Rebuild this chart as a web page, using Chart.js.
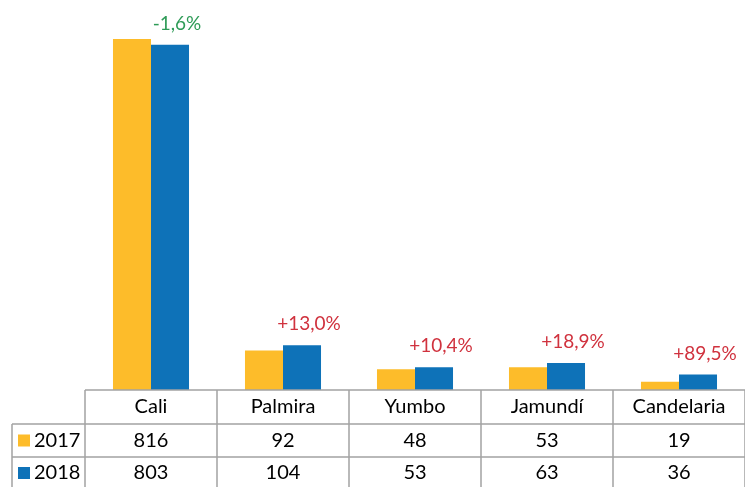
<!DOCTYPE html>
<html>
<head>
<meta charset="utf-8">
<script src="https://cdn.jsdelivr.net/npm/chart.js@4.4.1/dist/chart.umd.min.js"></script>
<style>
  html, body { margin: 0; padding: 0; background: #fff; }
  #wrap { width: 745px; height: 487px; }
</style>
</head>
<body>
<div id="wrap"><canvas id="my-chart"></canvas></div>
<script>
let categories = ["Cali", "Palmira", "Yumbo", "Jamundí", "Candelaria"];
let years = ["2017", "2018"];
let values2017 = [816, 92, 48, 53, 19];
let values2018 = [803, 104, 53, 63, 36];
let changes = ["-1,6%", "+13,0%", "+10,4%", "+18,9%", "+89,5%"];

let yellow = "#FDBC2A";
let blue = "#0E72B8";
let font = "Lato, 'Open Sans', sans-serif";

// percent change above each pair, plus the data table under the plot
let tablePlugin = {
    id: 'table',
    afterDraw(chart) {
        let ctx = chart.ctx;
        let x = chart.scales.x;
        let area = chart.chartArea;
        let step = x.getPixelForValue(1) - x.getPixelForValue(0);
        let meta = chart.getDatasetMeta(1);

        ctx.save();
        ctx.font = "19px " + font;
        ctx.textAlign = "center";
        ctx.textBaseline = "middle";
        meta.data.forEach((bar, i) => {
            ctx.fillStyle = changes[i].startsWith("-") ? "#2E9B57" : "#D0323E";
            ctx.fillText(changes[i], bar.x + 7, bar.y - 21);
        });

        let top = area.bottom;
        let row1 = top + 34;
        let row2 = top + 67;
        let bottom = chart.height;
        let left = 12;
        let right = area.right;

        ctx.strokeStyle = "#a3a3a3";
        ctx.lineWidth = 1.5;
        ctx.beginPath();
        ctx.moveTo(area.left, top); ctx.lineTo(right, top);
        ctx.moveTo(left, row1); ctx.lineTo(right, row1);
        ctx.moveTo(left, row2); ctx.lineTo(right, row2);
        ctx.moveTo(left, row1); ctx.lineTo(left, bottom);
        for (let i = 0; i <= categories.length; i++) {
            let cx = area.left + i * step;
            ctx.moveTo(cx, top); ctx.lineTo(cx, bottom);
        }
        ctx.stroke();

        ctx.fillStyle = "#000";
        ctx.font = "20px " + font;
        categories.forEach((c, i) => {
            let cx = x.getPixelForValue(i);
            ctx.fillText(c, cx, (top + row1) / 2);
            ctx.fillText(values2017[i], cx, (row1 + row2) / 2);
            ctx.fillText(values2018[i], cx, (row2 + bottom) / 2 + 1);
        });

        let rows = [[(row1 + row2) / 2, yellow], [(row2 + bottom) / 2 + 1, blue]];
        rows.forEach((r, i) => {
            ctx.fillStyle = r[1];
            ctx.fillRect(18, r[0] - 6, 12, 12);
            ctx.fillStyle = "#000";
            ctx.textAlign = "left";
            ctx.fillText(years[i], 34, r[0]);
        });
        ctx.restore();
    }
};

let ctx = document.getElementById('my-chart').getContext('2d');

let chart = new Chart(ctx, {
    type: 'bar',
    data: {
        labels: categories,
        datasets: [{
            label: years[0],
            data: values2017,
            backgroundColor: yellow,
            categoryPercentage: 0.576,
            barPercentage: 1
        }, {
            label: years[1],
            data: values2018,
            backgroundColor: blue,
            categoryPercentage: 0.576,
            barPercentage: 1
        }]
    },
    options: {
        responsive: true,
        maintainAspectRatio: false,
        animation: false,
        layout: {
            padding: { left: 85, right: 0, top: 3, bottom: 97 }
        },
        plugins: {
            legend: { display: false },
            tooltip: { enabled: false }
        },
        scales: {
            x: {
                display: false
            },
            y: {
                display: false,
                min: 0,
                max: 900
            }
        }
    },
    plugins: [tablePlugin]
});
</script>
</body>
</html>
